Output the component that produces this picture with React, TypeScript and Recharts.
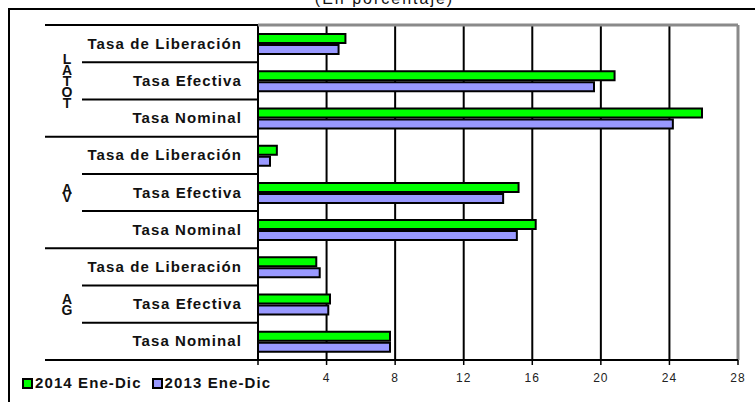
import React from "react";
import {
  Bar,
  BarChart,
  CartesianGrid,
  ReferenceLine,
  XAxis,
  YAxis,
} from "recharts";

// Tasas 2014 vs 2013 (En porcentaje)

const categories = [
  "Tasa de Liberación",
  "Tasa Efectiva",
  "Tasa Nominal",
  "Tasa de Liberación",
  "Tasa Efectiva",
  "Tasa Nominal",
  "Tasa de Liberación",
  "Tasa Efectiva",
  "Tasa Nominal",
];
const groupLetters = [["L", "A", "T", "O", "T"], ["A", "V"], ["A", "G"]];
const groupLetterGap = [11, 8, 11];
const values2014 = [5.1, 20.8, 25.9, 1.1, 15.2, 16.2, 3.4, 4.2, 7.7];
const values2013 = [4.7, 19.6, 24.2, 0.7, 14.3, 15.1, 3.6, 4.1, 7.7];
const xTicks = [0, 4, 8, 12, 16, 20, 24, 28];
const seriesNames = ["2014 Ene-Dic", "2013 Ene-Dic"];
const seriesColors = ["#00ff00", "#9999ff"];

const data = categories.map((name, i) => ({
  key: String(i),
  name,
  v2014: values2014[i],
  v2013: values2013[i],
}));

const W = 755;
const H = 402;
const X_AXIS_H = 30;
const M = { top: 25, right: 17, bottom: 42 - X_AXIS_H, left: 0 };
const AXIS_W = 258;
const PLOT_H = H - M.top - M.bottom - X_AXIS_H;
const STEP = PLOT_H / categories.length;
const FONT = '"Liberation Sans", Arial, sans-serif';

function CategoryTick(props: any) {
  const { y, payload } = props;
  const i = Number(payload.value);
  const g = Math.floor(i / 3);
  const inGroup = i % 3;
  const bottom = y + STEP / 2;
  const top = y - STEP / 2;
  const letters = groupLetters[g];
  const gap = groupLetterGap[g];
  return (
    <g>
      <text
        x={242}
        y={y + 5}
        textAnchor="end"
        fontFamily={FONT}
        fontWeight="bold"
        fontSize={15}
        letterSpacing={1.1}
        fill="#111"
      >
        {categories[i]}
      </text>
      {i === 0 && (
        <>
          <line x1={45} x2={AXIS_W} y1={top} y2={top} stroke="#000" strokeWidth={2} />
          <line x1={AXIS_W} x2={W - M.right} y1={top} y2={top} stroke="#8a8a8a" strokeWidth={3} />
        </>
      )}
      <line
        x1={inGroup === 2 ? 45 : 82}
        x2={AXIS_W}
        y1={bottom}
        y2={bottom}
        stroke="#000"
        strokeWidth={2}
      />
      {inGroup === 1 &&
        letters.map((ch, k) => (
          <text
            key={k}
            x={67}
            y={y + (k - (letters.length - 1) / 2) * gap + 5}
            textAnchor="middle"
            fontFamily={FONT}
            fontWeight="bold"
            fontSize={14}
            fill="#111"
          >
            {ch}
          </text>
        ))}
    </g>
  );
}

function LegendBox() {
  return (
    <div
      style={{
        position: "absolute",
        left: 22,
        top: 374,
        display: "flex",
        fontFamily: FONT,
        fontWeight: "bold",
        fontSize: 15,
        letterSpacing: 1.1,
        lineHeight: "18px",
        color: "#111",
      }}
    >
      {seriesNames.map((n, i) => (
        <div key={n} style={{ display: "flex", alignItems: "center", marginRight: 10 }}>
          <span
            style={{
              display: "inline-block",
              width: 7,
              height: 7,
              background: seriesColors[i],
              border: "2px solid #000",
              marginRight: 2,
            }}
          />
          {n}
        </div>
      ))}
    </div>
  );
}

export default function App() {
  return (
    <div style={{ position: "absolute", left: 0, top: 0, width: W, height: H, overflow: "hidden", background: "#fff" }}>
      <div
        style={{
          position: "absolute",
          left: 8,
          top: 8,
          width: W,
          height: H,
          borderTop: "2px solid #000",
          borderLeft: "2px solid #000",
        }}
      />
      <div
        style={{
          position: "absolute",
          left: 7,
          top: -9,
          width: W,
          textAlign: "center",
          fontFamily: FONT,
          fontSize: 16,
          lineHeight: "16px",
          letterSpacing: 2,
          color: "#111",
        }}
      >
        (En porcentaje)
      </div>
      <BarChart
        width={W}
        height={H}
        data={data}
        layout="vertical"
        margin={M}
        barSize={9}
        barGap={2}
        style={{ position: "absolute", left: 0, top: 0 }}
      >
        <CartesianGrid horizontal={false} stroke="#000" strokeWidth={2} />
        <XAxis
          type="number"
          domain={[0, 28]}
          ticks={xTicks}
          interval={0}
          height={X_AXIS_H}
          tickFormatter={(v) => (v === 0 ? "" : String(v))}
          axisLine={{ stroke: "#000", strokeWidth: 2 }}
          tickLine={{ stroke: "#000", strokeWidth: 1.5 }}
          tickSize={5}
          tickMargin={8}
          tick={{ fontSize: 12, fill: "#222", fontFamily: FONT, letterSpacing: 1 }}
        />
        <YAxis
          type="category"
          dataKey="key"
          width={AXIS_W}
          axisLine={{ stroke: "#000", strokeWidth: 2 }}
          tickLine={false}
          interval={0}
          tick={<CategoryTick />}
        />
        <ReferenceLine x={28} stroke="#8a8a8a" strokeWidth={3} />
        <Bar dataKey="v2014" name={seriesNames[0]} fill={seriesColors[0]} stroke="#000" strokeWidth={2} isAnimationActive={false} />
        <Bar dataKey="v2013" name={seriesNames[1]} fill={seriesColors[1]} stroke="#000" strokeWidth={2} isAnimationActive={false} />
      </BarChart>
      <LegendBox />
    </div>
  );
}
